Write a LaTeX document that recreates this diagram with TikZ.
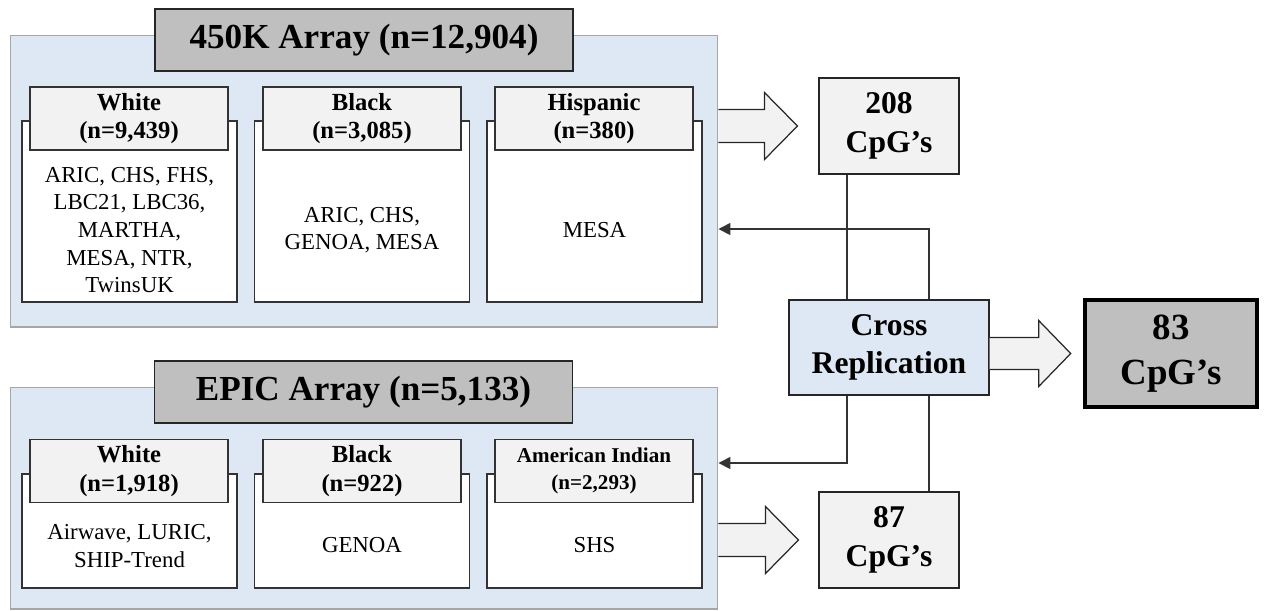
\documentclass[tikz,border=0pt]{standalone}
\usepackage{fontspec}
\setmainfont{Liberation Serif}
\usetikzlibrary{arrows.meta}
\definecolor{panelblue}{HTML}{DEE8F4}
\definecolor{hdrgray}{HTML}{F2F2F2}
\definecolor{titlegray}{HTML}{BFBFBF}
\definecolor{edgegray}{HTML}{A6A6A6}
\definecolor{linedark}{HTML}{333333}
\tikzset{
  panel/.style={draw=edgegray, fill=panelblue, line width=0.6pt, minimum width=14.16cm},
  arraytitle/.style={draw=black!85, fill=titlegray, line width=0.8pt, minimum width=8.36cm,
    minimum height=1.24cm, font=\fontsize{20}{24}\selectfont\bfseries},
  cohort/.style={draw=black!80, fill=white, line width=0.7pt, minimum width=4.3cm},
  group/.style={draw=black!80, fill=hdrgray, line width=0.7pt, minimum width=3.96cm,
    minimum height=1.26cm, align=center, font=\fontsize{14}{16.3}\selectfont\bfseries},
  studies/.style={align=center, font=\fontsize{13}{15.7}\selectfont},
  result/.style={draw=black!85, fill=hdrgray, line width=0.8pt, minimum width=2.8cm,
    minimum height=1.92cm, align=center, font=\fontsize{18}{22}\selectfont\bfseries},
  link/.style={draw=linedark, line width=0.9pt},
  feedback/.style={link, -{Triangle[length=2.4mm,width=2.4mm]}},
  fatarrow/.style={draw=black!85, fill=hdrgray, line width=0.7pt, line join=miter},
}
\begin{document}
\begin{tikzpicture}[x=0.02cm, y=-0.02cm]
  \useasboundingbox (0,0) rectangle (1267,610);
  \node[panel, minimum height=5.84cm] (top) at (364,181) {};
  \node[arraytitle] (ttl450) at (364,40) {450K Array (n=12,904)};
  \node[cohort, minimum height=3.62cm] (w450) at (129.5,211.5) {};
  \node[cohort, minimum height=3.62cm] (b450) at (362,211.5) {};
  \node[cohort, minimum height=3.62cm] (h450) at (594.5,211.5) {};
  \node[group] (gw450) at (129,118.5) {White\\(n=9,439)};
  \node[group] (gb450) at (362,118.5) {Black\\(n=3,085)};
  \node[group] (gh450) at (594,118.5) {Hispanic\\(n=380)};
  \node[studies] (sw450) at (129.5,230) {ARIC, CHS, FHS,\\LBC21, LBC36,\\MARTHA,\\MESA, NTR,\\TwinsUK};
  \node[studies] (sb450) at (362,230) {ARIC, CHS,\\GENOA, MESA};
  \node[studies] (sh450) at (594.5,230) {MESA};

  \node[panel, minimum height=4.44cm] (bot) at (364,498) {};
  \node[arraytitle] (ttlepic) at (363.5,392) {EPIC Array (n=5,133)};
  \node[cohort, minimum height=2.28cm] (wepic) at (129.5,531) {};
  \node[cohort, minimum height=2.28cm] (bepic) at (362,531) {};
  \node[cohort, minimum height=2.28cm] (aepic) at (594.5,531) {};
  \node[group] (gwepic) at (129,471) {White\\(n=1,918)};
  \node[group] (gbepic) at (362,471) {Black\\(n=922)};
  \node[group, font=\fontsize{12}{15}\selectfont\bfseries] (gaepic) at (594,471) {American Indian\\(n=2,293)};
  \node[studies] (swepic) at (129.5,546) {Airwave, LURIC,\\SHIP-Trend};
  \node[studies] (sbepic) at (362,545) {GENOA};
  \node[studies] (saepic) at (594.5,545) {SHS};

  \node[result] (res208) at (889,126) {208\\CpG’s};
  \node[result, fill=panelblue, minimum width=4cm, minimum height=1.9cm] (cross) at (889,347.5) {Cross\\Replication};
  \node[result] (res87) at (889,540) {87\\CpG’s};
  \node[result, draw=black, fill=titlegray, line width=1.8pt, minimum width=3.44cm, minimum height=2.14cm,
    font=\fontsize{21}{25.5}\selectfont\bfseries] (res83) at (1171,353.5) {83\\CpG’s};

  \filldraw[fatarrow] (top.east |- res208) ++(0,-16.5) -- ++(46,0) -- ++(0,-17) -- ++(33,33.5)
    -- ++(-33,33.5) -- ++(0,-17) -- ++(-46,0);
  \filldraw[fatarrow] (bot.east |- res87) ++(0,-16.5) -- ++(47,0) -- ++(0,-17) -- ++(33,33.5)
    -- ++(-33,33.5) -- ++(0,-17) -- ++(-47,0);
  \filldraw[fatarrow] (cross.east |- res83) ++(0,-16) -- ++(49,0) -- ++(0,-17) -- ++(32,33)
    -- ++(-32,33) -- ++(0,-17) -- ++(-49,0);

  \draw[link] ([xshift=-0.84cm]res208.south) -- ([xshift=-0.84cm]cross.north);
  \draw[link] ([xshift=0.8cm]cross.south) -- ([xshift=0.8cm]res87.north);
  \draw[feedback] ([xshift=0.8cm]cross.north) |- (top.east |- 0,229);
  \draw[feedback] ([xshift=-0.84cm]cross.south) |- (bot.east |- 0,463);
\end{tikzpicture}
\end{document}
